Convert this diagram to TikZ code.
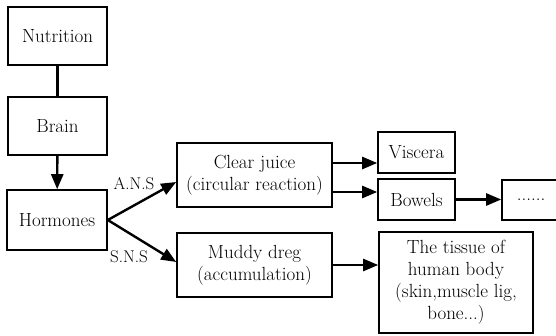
\documentclass[tikz,border=0pt]{standalone}
\usepackage{tikz}
\usetikzlibrary{arrows.meta,positioning,calc}

\begin{document}
\begin{tikzpicture}[x=1pt, y=-1pt, line width=1.6pt, >={Triangle[length=15pt,width=12pt]},main node/.style={rectangle,draw,align=center,inner sep=2pt},lab/.style={font=\fontsize{17}{18}\selectfont,inner sep=0pt}]%px-like units
\useasboundingbox (0,0) rectangle (556,335);
\begin{scope}[every node/.style={font=\fontsize{19}{22}\selectfont}]
\node[main node,minimum width=99pt,minimum height=58pt] (vN) at (57.5,36) {Nutrition};
\node[main node,minimum width=99pt,minimum height=58pt] (vB) at (57.5,126) {Brain};
\node[main node,minimum width=100pt,minimum height=60pt] (vH) at (57,220) {Hormones};
\node[main node,minimum width=155pt,minimum height=64pt] (vC) at (254.5,175) {Clear juice\\(circular reaction)};
\node[main node,minimum width=155pt,minimum height=64pt] (vM) at (254.5,265) {Muddy dreg\\(accumulation)};
\node[main node,minimum width=77pt,minimum height=41pt] (vV) at (416.5,152.5) {Viscera};
\node[main node,minimum width=77pt,minimum height=41pt] (vW) at (416.5,199.5) {Bowels};
\node[main node,minimum width=58pt,minimum height=40pt] (vD) at (531,200) {......};
\node[main node,minimum width=154pt,minimum height=101pt] (vT) at (456,282.5) {The tissue of\\human body\\(skin,muscle lig,\\bone...)};
\end{scope}
\node[lab] (lA) at (134,184) {A.N.S};
\node[lab] (lS) at (129,257) {S.N.S};
\begin{scope}[every edge/.style={draw=black,line width=2.4pt}]
\draw (vN) edge node{} (vB);
\draw (vB) edge[->] node{} (vH);
\draw (vH.east) edge[->] node{} ([yshift=-7pt]vC.west);
\draw (vH.east) edge[->] node{} ([yshift=3pt]vM.west);
\draw ([yshift=12pt]vC.east) coordinate (c1) edge[->] node{} (c1 -| vV.west);
\draw ([yshift=-17pt]vC.east) coordinate (c2) edge[->] node{} (c2 -| vW.west);
\draw (vW.east) edge[->] node{} (vW.east -| vD.west);
\draw (vM.east) edge[->] node{} (vM.east -| vT.west);
\end{scope}
\end{tikzpicture}
\end{document}
